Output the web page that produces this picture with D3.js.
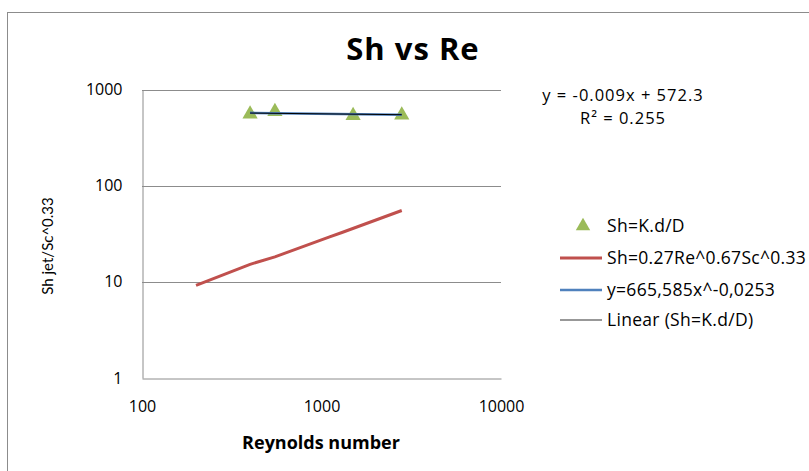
<!DOCTYPE html>
<html><head><meta charset="utf-8">
<script src="https://cdn.jsdelivr.net/npm/d3@7"></script>
<style>body{margin:0;background:#fff;}svg{display:block;font-family:"Open Sans",Lato,sans-serif;}</style>
</head><body>
<svg id="c" width="809" height="471"></svg>
<script>
// Data
const reData = [400, 550, 1500, 2800];
const shData = [556, 590, 536, 542];
const reCorr = [200, 400, 550, 1100, 1300, 2800];
const shCorr = [9.2, 15.2, 18.2, 29.2, 32.6, 55.2];
const powerFitRe = [400, 2800];
const powerFitSh = [572, 545];
const linFitRe = [400, 2800];
const linFitSh = [569, 547];
const xTicks = [100, 1000, 10000];
const yTicks = [1, 10, 100, 1000];
const legendLabels = ["Sh=K.d/D", "Sh=0.27Re^0.67Sc^0.33", "y=665,585x^-0,0253", "Linear (Sh=K.d/D)"];

const svg = d3.select("#c");
const L = 142, R = 501, T = 89.5, B = 378;
const x = d3.scaleLog().domain([100, 10000]).range([L, R]);
const y = d3.scaleLog().domain([1, 1000]).range([B, T]);

// chart border
svg.append("rect").attr("x", 7.5).attr("y", 12.5).attr("width", 820).attr("height", 480)
  .attr("fill", "none").attr("stroke", "#8c8c8c").attr("stroke-width", 1);

// gridlines
svg.append("g").selectAll("line").data(yTicks.filter(d => d > 1)).join("line")
  .attr("x1", L).attr("x2", R).attr("y1", d => Math.round(y(d)) + 0.5).attr("y2", d => Math.round(y(d)) + 0.5)
  .attr("stroke", "#8c8c8c");

// axes
const xa = svg.append("g").attr("transform", `translate(0,${Math.round(B) + 0.5})`)
  .call(d3.axisBottom(x).tickValues(xTicks).tickFormat(d3.format("d")).tickSize(0).tickPadding(22));
const ya = svg.append("g").attr("transform", `translate(${L + 0.5},0)`)
  .call(d3.axisLeft(y).tickValues(yTicks).tickFormat(d3.format("d")).tickSize(0).tickPadding(20));
[xa, ya].forEach(g => {
  g.select(".domain").attr("stroke", "#8c8c8c");
  g.selectAll("text").attr("font-size", 16).attr("fill", "#000").attr("font-family", "'Open Sans', sans-serif");
});

// red correlation line
const line = d3.line().x(d => x(d[0])).y(d => y(d[1]));
svg.append("path").attr("d", line(reCorr.map((r, i) => [r, shCorr[i]])))
  .attr("fill", "none").attr("stroke", "#C0504D").attr("stroke-width", 3);

// green triangles
const tri = d3.symbol().type(d3.symbolTriangle).size(100);
svg.append("g").selectAll("path").data(reData.map((r, i) => [r, shData[i]])).join("path")
  .attr("d", tri).attr("transform", d => `translate(${x(d[0])},${y(d[1])})`)
  .attr("fill", "#9BBB59");

// power fit (blue) and linear fit (black)
svg.append("path").attr("d", line(powerFitRe.map((r, i) => [r, powerFitSh[i]])))
  .attr("fill", "none").attr("stroke", "#4F81BD").attr("stroke-width", 2.5);
svg.append("path").attr("d", line(linFitRe.map((r, i) => [r, linFitSh[i]])))
  .attr("fill", "none").attr("stroke", "#000").attr("stroke-width", 1);

// title
svg.append("text").attr("x", 413).attr("y", 60).attr("text-anchor", "middle")
  .attr("font-size", 31).attr("font-weight", "bold").attr("letter-spacing", 1).text("Sh vs Re");

// axis titles
svg.append("text").attr("x", 321).attr("y", 449).attr("text-anchor", "middle")
  .attr("font-size", 18).attr("font-weight", "bold").text("Reynolds number");
svg.append("text").attr("transform", "translate(53,246) rotate(-90)").attr("text-anchor", "middle")
  .attr("font-size", 15).attr("font-family", "Lato, sans-serif").text("Sh jet/Sc^0.33");

// trendline equation
svg.append("text").attr("x", 623).attr("y", 101).attr("text-anchor", "middle").attr("font-size", 16.5)
  .attr("letter-spacing", 1).text("y = -0.009x + 572.3");
svg.append("text").attr("x", 623).attr("y", 124).attr("text-anchor", "middle").attr("font-size", 16.5)
  .attr("letter-spacing", 1).text("R² = 0.255");

// legend
const lg = svg.append("g");
const ly = [226, 258, 290, 320];
lg.append("path").attr("d", d3.symbol().type(d3.symbolTriangle).size(90))
  .attr("transform", `translate(583,${ly[0]})`).attr("fill", "#9BBB59");
const lineStyles = [null, ["#C0504D", 3], ["#4F81BD", 2.5], ["#333", 1.2]];
lineStyles.forEach((s, i) => {
  if (!s) return;
  lg.append("line").attr("x1", 560).attr("x2", 602).attr("y1", ly[i]).attr("y2", ly[i])
    .attr("stroke", s[0]).attr("stroke-width", s[1]);
});
legendLabels.forEach((t, i) => {
  lg.append("text").attr("x", 607).attr("y", ly[i]).attr("dy", "0.35em").attr("font-size", 17.5)
    .attr("letter-spacing", 0.3).text(t);
});
</script>
</body></html>
